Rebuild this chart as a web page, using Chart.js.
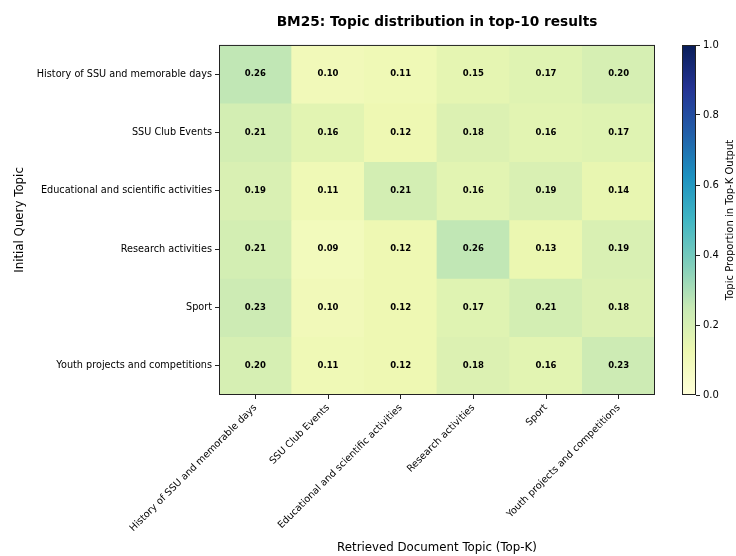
<!DOCTYPE html>
<html>
<head>
<meta charset="utf-8">
<script src="https://cdn.jsdelivr.net/npm/chart.js@4.4.1/dist/chart.umd.min.js"></script>
<style>
  html, body { margin: 0; padding: 0; background: #fff; }
  #wrap { position: relative; width: 736px; height: 556px; }
  #heat { position: absolute; left: 0; top: 0; }
  #cbar { position: absolute; left: 640px; top: 0; }
</style>
</head>
<body>
<div id="wrap">
  <canvas id="heat" width="736" height="556"></canvas>
  <canvas id="cbar" width="96" height="556"></canvas>
</div>
<script>
const queryTopics = [
  'History of SSU and memorable days',
  'SSU Club Events',
  'Educational and scientific activities',
  'Research activities',
  'Sport',
  'Youth projects and competitions'
];
const docTopics = queryTopics.slice();

// rows = initial query topic, columns = retrieved doc topic
const proportions = [
  [0.26, 0.10, 0.11, 0.15, 0.17, 0.20],
  [0.21, 0.16, 0.12, 0.18, 0.16, 0.17],
  [0.19, 0.11, 0.21, 0.16, 0.19, 0.14],
  [0.21, 0.09, 0.12, 0.26, 0.13, 0.19],
  [0.23, 0.10, 0.12, 0.17, 0.21, 0.18],
  [0.20, 0.11, 0.12, 0.18, 0.16, 0.23]
];
const colorbarTicks = [0, 0.2, 0.4, 0.6, 0.8, 1.0];

// matplotlib YlGnBu stops
const ylgnbu = [
  [255, 255, 217], [237, 248, 177], [199, 233, 180], [127, 205, 187], [65, 182, 196],
  [29, 145, 192], [34, 94, 168], [37, 52, 148], [8, 29, 88]
];

const FONT = "'DejaVu Sans', sans-serif";

function cmap(v) {
  const t = Math.max(0, Math.min(1, v)) * (ylgnbu.length - 1);
  const i = Math.min(Math.floor(t), ylgnbu.length - 2);
  const f = t - i;
  const a = ylgnbu[i], b = ylgnbu[i + 1];
  const c = a.map((x, k) => Math.round(x + (b[k] - x) * f));
  return `rgb(${c[0]},${c[1]},${c[2]})`;
}

const framePlugin = {
  id: 'frame',
  afterDatasetsDraw(chart) {
    const { ctx, chartArea } = chart;
    ctx.save();
    ctx.strokeStyle = '#222';
    ctx.lineWidth = 1;
    ctx.strokeRect(chartArea.left + 0.5, chartArea.top + 0.5, chartArea.width - 1, chartArea.height - 1);
    ctx.restore();
  }
};

const cellLabels = {
  id: 'cellLabels',
  afterDatasetsDraw(chart) {
    const { ctx, scales } = chart;
    ctx.save();
    ctx.font = `bold 8.5px ${FONT}`;
    ctx.fillStyle = '#000';
    ctx.textAlign = 'center';
    ctx.textBaseline = 'middle';
    proportions.forEach((row, r) => {
      row.forEach((v, c) => {
        const x = scales.x.getPixelForValue(c);
        const y = scales.y.getPixelForValue(r + 0.5);
        ctx.fillText(v.toFixed(2), x, y);
      });
    });
    ctx.restore();
  }
};

new Chart(document.getElementById('heat'), {
  type: 'bar',
  data: {
    labels: docTopics,
    datasets: proportions.map((row, r) => ({
      label: queryTopics[r],
      data: row.map(() => [r, r + 1]),
      backgroundColor: row.map(cmap),
      borderWidth: 0,
      borderSkipped: false,
      barPercentage: 1,
      categoryPercentage: 1,
      grouped: false
    }))
  },
  options: {
    responsive: false,
    animation: false,
    layout: { padding: { left: 13, right: 81, bottom: 0 } },
    plugins: {
      legend: { display: false },
      tooltip: { enabled: false },
      title: {
        display: true,
        fullSize: false,
        text: 'BM25: Topic distribution in top-10 results',
        color: '#000',
        font: { family: FONT, size: 13.7, weight: 'bold' },
        padding: { top: 14, bottom: 14.5 }
      }
    },
    scales: {
      x: {
        type: 'category',
        offset: true,
        border: { display: false },
        grid: { display: true, offset: false, drawOnChartArea: false, drawTicks: true, tickLength: 4, color: '#222' },
        ticks: { color: '#000', font: { family: FONT, size: 9.7 }, minRotation: 45, maxRotation: 45, padding: 3 },
        afterFit(scale) { scale.height = 161; },
        title: {
          display: true,
          text: 'Retrieved Document Topic (Top-K)',
          color: '#000',
          font: { family: FONT, size: 11.8 },
          padding: { top: 0, bottom: 1 }
        }
      },
      y: {
        type: 'linear',
        min: 0,
        max: queryTopics.length,
        reverse: true,
        border: { display: false },
        grid: { display: true, drawOnChartArea: false, drawTicks: true, tickLength: 4, color: '#222' },
        afterBuildTicks(scale) {
          scale.ticks = queryTopics.map((_, i) => ({ value: i + 0.5 }));
        },
        afterFit(scale) { scale.width = 206; },
        ticks: {
          color: '#000',
          font: { family: FONT, size: 9.7 },
          padding: 3,
          callback: (v) => queryTopics[Math.floor(v)]
        },
        title: {
          display: true,
          text: 'Initial Query Topic',
          color: '#000',
          font: { family: FONT, size: 11.8 },
          padding: { top: 0, bottom: 0 }
        }
      }
    }
  },
  plugins: [cellLabels, framePlugin]
});

const cbarLabel = {
  id: 'cbarLabel',
  afterDraw(chart) {
    const { ctx, chartArea } = chart;
    ctx.save();
    ctx.font = `10px ${FONT}`;
    ctx.fillStyle = '#000';
    ctx.textAlign = 'center';
    ctx.textBaseline = 'middle';
    ctx.translate(chartArea.right + 34, (chartArea.top + chartArea.bottom) / 2);
    ctx.rotate(-Math.PI / 2);
    ctx.fillText('Topic Proportion in Top-K Output', 0, 0);
    ctx.restore();
  }
};

new Chart(document.getElementById('cbar'), {
  type: 'bar',
  data: {
    labels: ['scale'],
    datasets: [{
      data: [[colorbarTicks[0], colorbarTicks[colorbarTicks.length - 1]]],
      backgroundColor(context) {
        const area = context.chart.chartArea;
        if (!area) return cmap(0);
        const g = context.chart.ctx.createLinearGradient(0, area.bottom, 0, area.top);
        ylgnbu.forEach((c, i) => g.addColorStop(i / (ylgnbu.length - 1), `rgb(${c[0]},${c[1]},${c[2]})`));
        return g;
      },
      borderWidth: 0,
      barPercentage: 1,
      categoryPercentage: 1
    }]
  },
  options: {
    responsive: false,
    animation: false,
    layout: { padding: { left: 42, top: 45, bottom: 161, right: 0 } },
    plugins: { legend: { display: false }, tooltip: { enabled: false } },
    scales: {
      x: { display: false },
      y: {
        position: 'right',
        min: 0,
        max: 1,
        border: { display: false },
        grid: { display: true, drawOnChartArea: false, drawTicks: true, tickLength: 4, color: '#222' },
        afterBuildTicks(scale) {
          scale.ticks = colorbarTicks.map((v) => ({ value: v }));
        },
        afterFit(scale) { scale.width = 40; },
        ticks: {
          color: '#000',
          font: { family: FONT, size: 10 },
          padding: 3,
          callback: (v) => v.toFixed(1)
        }
      }
    }
  },
  plugins: [framePlugin, cbarLabel]
});
</script>
</body>
</html>
